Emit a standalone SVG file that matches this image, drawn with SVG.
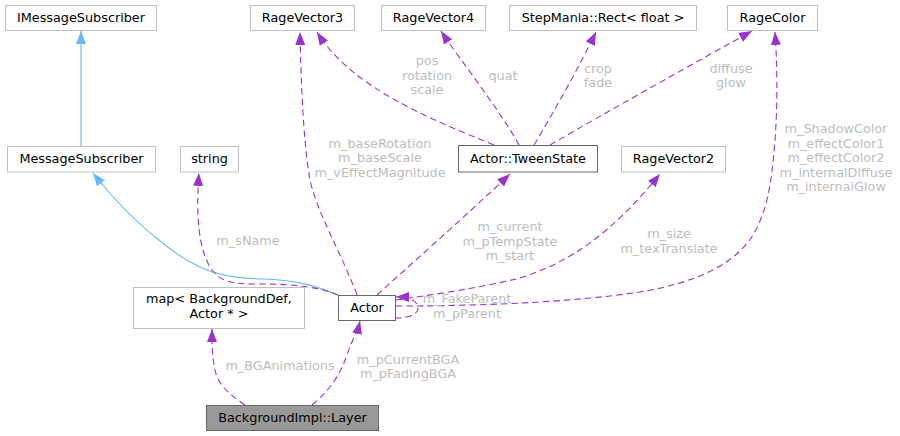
<svg xmlns="http://www.w3.org/2000/svg" width="900" height="436" viewBox="0 0 900 436">
<style>
text{font-family:"DejaVu Sans",sans-serif;font-size:12.8px;text-anchor:middle}
.n rect{fill:#fff;stroke:#bfbfbf;stroke-width:1}
.n.d rect{stroke:#666}
.n.h rect{fill:#999;stroke:#666}
.n text{fill:#000}
.e path{fill:none;stroke-width:1.1}
.p{stroke:#9a32cd;stroke-dasharray:6.5,4}
.b{stroke:#63b8ff}
.l{fill:#bdbdbd}
</style>
<defs>
<marker id="ap" markerUnits="userSpaceOnUse" markerWidth="14" markerHeight="12" refX="13" refY="5" orient="auto"><path d="M0,0 L13,5 L0,10 z" fill="#9a32cd"/></marker>
<marker id="ab" markerUnits="userSpaceOnUse" markerWidth="14" markerHeight="12" refX="13" refY="5" orient="auto"><path d="M0,0 L13,5 L0,10 z" fill="#63b8ff"/></marker>
</defs>
<g id="edges" class="e">
<path class="b" marker-end="url(#ab)" d="M81,146 L81,31"/>
<path class="b" marker-end="url(#ab)" d="M338,295 C318,287 300,280 262,279 C222,278 200,272 165,245 C135,222 110,195 93,173"/>
<path class="p" marker-end="url(#ap)" d="M338,295 C320,288 300,284 260,284 C230,284 222,282 212,270 C198,250 196,215 199,173"/>
<path class="p" marker-end="url(#ap)" d="M357,295 C340,250 318,215 310,180 C303,140 301,80 300,32"/>
<path class="p" marker-end="url(#ap)" d="M494,145 C420,115 350,85 317,32"/>
<path class="p" marker-end="url(#ap)" d="M519,145 C500,110 460,60 441,31"/>
<path class="p" marker-end="url(#ap)" d="M534,145 C555,110 580,65 596,32"/>
<path class="p" marker-end="url(#ap)" d="M550,145 C610,110 700,60 752,31"/>
<path class="p" marker-end="url(#ap)" d="M377,295 C400,274 470,212 510,174"/>
<path class="p" marker-end="url(#ap)" d="M396,300 C430,295 480,288 520,278 C570,262 610,235 660,174"/>
<path class="p" marker-end="url(#ap)" d="M396,306 C460,306 560,304 640,292 C700,282 740,262 757,228 C770,200 772,175 775,140 C778,100 777,60 775,32"/>
<path class="p" marker-end="url(#ap)" d="M395,318 C405,318 418,316 418,308 C418,301 410,297 396,297"/>
<path class="p" marker-end="url(#ap)" d="M245,405 C230,395 218,385 215,370 C212,355 212,345 212,329"/>
<path class="p" marker-end="url(#ap)" d="M312,405 C330,390 340,375 347,355 C352,340 358,330 360,321"/>
<text class="l" x="427" y="65">pos</text>
<text class="l" x="427" y="79.5">rotation</text>
<text class="l" x="427" y="94">scale</text>
<text class="l" x="503" y="80">quat</text>
<text class="l" x="598" y="72.5">crop</text>
<text class="l" x="598" y="87">fade</text>
<text class="l" x="731" y="72.5">diffuse</text>
<text class="l" x="731" y="87">glow</text>
<text class="l" x="380" y="147.5">m_baseRotation</text>
<text class="l" x="380" y="162">m_baseScale</text>
<text class="l" x="380" y="176.5">m_vEffectMagnitude</text>
<text class="l" x="248" y="245">m_sName</text>
<text class="l" x="510" y="231">m_current</text>
<text class="l" x="510" y="245.5">m_pTempState</text>
<text class="l" x="510" y="260">m_start</text>
<text class="l" x="669" y="238">m_size</text>
<text class="l" x="669" y="252.5">m_texTranslate</text>
<text class="l" x="836" y="133">m_ShadowColor</text>
<text class="l" x="836" y="147.5">m_effectColor1</text>
<text class="l" x="836" y="162">m_effectColor2</text>
<text class="l" x="836" y="176.5">m_internalDiffuse</text>
<text class="l" x="836" y="191">m_internalGlow</text>
<text class="l" x="467" y="303">m_FakeParent</text>
<text class="l" x="467" y="317.5">m_pParent</text>
<text class="l" x="280" y="369.5">m_BGAnimations</text>
<text class="l" x="408" y="363.5">m_pCurrentBGA</text>
<text class="l" x="408" y="378">m_pFadingBGA</text>
</g>
<g id="IMessageSubscriber" class="n"><rect x="5.5" y="5.5" width="151" height="25"/><text x="81" y="22">IMessageSubscriber</text></g>
<g id="MessageSubscriber" class="n"><rect x="7.5" y="146.5" width="148" height="25.5"/><text x="81.5" y="163.3">MessageSubscriber</text></g>
<g id="string" class="n"><rect x="180.5" y="146.5" width="58" height="25.5"/><text x="209.5" y="163.3">string</text></g>
<g id="RageVector3" class="n"><rect x="250.5" y="5.5" width="104" height="25"/><text x="302.5" y="22">RageVector3</text></g>
<g id="RageVector4" class="n"><rect x="381.5" y="5.5" width="104" height="25"/><text x="433.5" y="22">RageVector4</text></g>
<g id="StepManiaRect" class="n"><rect x="509.5" y="5.5" width="187" height="25"/><text x="603" y="22">StepMania::Rect&lt; float &gt;</text></g>
<g id="RageColor" class="n"><rect x="727.5" y="5.5" width="90" height="25"/><text x="772.5" y="22">RageColor</text></g>
<g id="TweenState" class="n d"><rect x="458.5" y="145.5" width="139" height="26.5"/><text x="528" y="162.8">Actor::TweenState</text></g>
<g id="RageVector2" class="n"><rect x="621.5" y="146.5" width="104" height="25.5"/><text x="673.5" y="163.3">RageVector2</text></g>
<g id="map" class="n"><rect x="133.5" y="287.5" width="171" height="41"/><text x="219" y="303.3">map&lt; BackgroundDef,</text><text x="219" y="318.3">Actor * &gt;</text></g>
<g id="Actor" class="n d"><rect x="338.5" y="295.5" width="57" height="25"/><text x="367" y="312.3">Actor</text></g>
<g id="Layer" class="n h"><rect x="206.5" y="405.5" width="172" height="25"/><text x="292.5" y="422">BackgroundImpl::Layer</text></g>
</svg>
